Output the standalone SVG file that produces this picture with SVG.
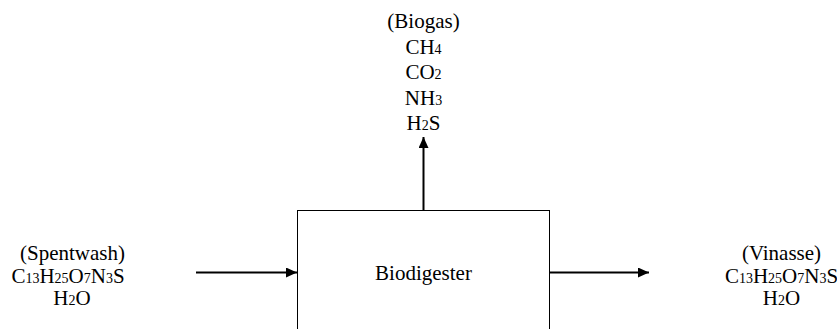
<svg xmlns="http://www.w3.org/2000/svg" width="837" height="329" viewBox="0 0 837 329">
<style>
text{font-family:"Liberation Serif","Times New Roman",serif;font-size:21px;fill:#000;text-anchor:middle}
.s{font-size:14px}
.ln{stroke:#000;stroke-width:2;fill:none}
</style>
<defs>
<marker id="ah" viewBox="0 0 11 10" refX="11" refY="5" markerWidth="11" markerHeight="10" markerUnits="userSpaceOnUse" orient="auto">
<path d="M0,0 L11,5 L0,10 Z" fill="#000"/>
</marker>
</defs>
<rect width="837" height="329" fill="#fff"/>
<g id="biodigester">
<rect x="297.5" y="210.5" width="252" height="130" fill="#fff" stroke="#000" stroke-width="1"/>
<text x="423.5" y="280">Biodigester</text>
</g>
<g id="biogas">
<text x="423.5" y="27.5">(Biogas)</text>
<text x="423.5" y="53.5">CH<tspan class="s">4</tspan></text>
<text x="423.5" y="79">CO<tspan class="s">2</tspan></text>
<text x="423.5" y="104.5">NH<tspan class="s">3</tspan></text>
<text x="423.5" y="130">H<tspan class="s">2</tspan>S</text>
</g>
<g id="spentwash">
<text x="72.5" y="259.5">(Spentwash)</text>
<text x="68" y="282.5">C<tspan class="s">13</tspan>H<tspan class="s">25</tspan>O<tspan class="s">7</tspan>N<tspan class="s">3</tspan>S</text>
<text x="72" y="305">H<tspan class="s">2</tspan>O</text>
</g>
<g id="vinasse">
<text x="781.5" y="259.5">(Vinasse)</text>
<text x="781.5" y="282.5">C<tspan class="s">13</tspan>H<tspan class="s">25</tspan>O<tspan class="s">7</tspan>N<tspan class="s">3</tspan>S</text>
<text x="781.5" y="305">H<tspan class="s">2</tspan>O</text>
</g>
<g id="connectors">
<line class="ln" x1="196" y1="272.5" x2="297" y2="272.5" marker-end="url(#ah)"/>
<line class="ln" x1="550" y1="272.5" x2="649" y2="272.5" marker-end="url(#ah)"/>
<line class="ln" x1="423.5" y1="210" x2="423.5" y2="137" marker-end="url(#ah)"/>
</g>
</svg>
